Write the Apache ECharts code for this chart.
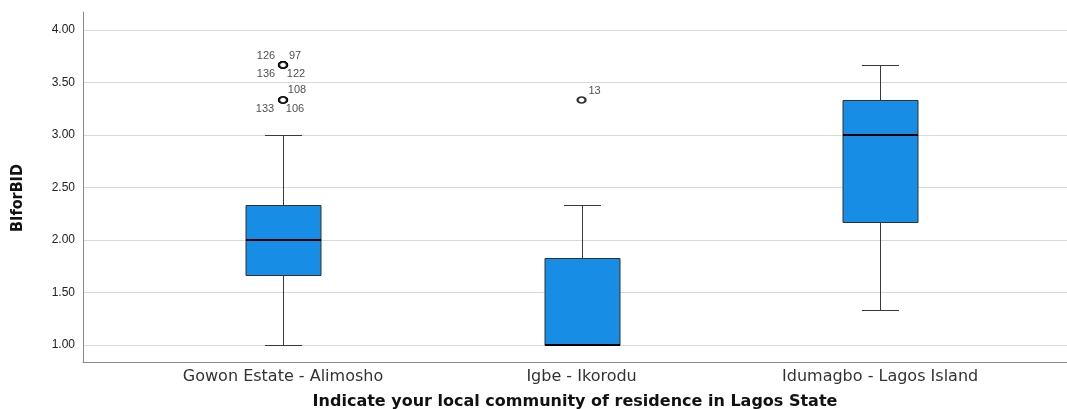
<!DOCTYPE html>
<html>
<head>
<meta charset="utf-8">
<script src="https://cdn.jsdelivr.net/npm/echarts@6/dist/echarts.min.js"></script>
<style>
html,body{margin:0;padding:0;background:#fff;}
#chart{width:1067px;height:409px;}
</style>
</head>
<body>
<div id="chart"></div>
<script>
// ---- data ----
const categories = ['Gowon Estate - Alimosho', 'Igbe - Ikorodu', 'Idumagbo - Lagos Island'];
const whiskerLow  = [1.000, 1.000, 1.333];
const quartile1   = [1.667, 1.000, 2.167];
const medians     = [2.000, 1.000, 3.000];
const quartile3   = [2.333, 1.833, 3.333];
const whiskerHigh = [3.000, 2.333, 3.667];

const outlierGroup = [0, 0, 0, 0, 0, 0, 0, 1];
const outlierValue = [3.667, 3.667, 3.667, 3.667, 3.333, 3.333, 3.333, 3.333];
const outlierCase  = ['126', '97', '136', '122', '108', '133', '106', '13'];

const yTicks = [1.0, 1.5, 2.0, 2.5, 3.0, 3.5, 4.0];
const yTitle = 'BIforBID';
const xTitle = 'Indicate your local community of residence in Lagos State';

// label placement around the outlier marker (style only)
const caseLabelOffset = [[-17, -9], [12, -9], [-17, 9], [13, 9], [14, -10], [-18, 9], [12, 9], [13, -9]];

const boxData = categories.map((c, i) => [i, whiskerLow[i], quartile1[i], medians[i], quartile3[i], whiskerHigh[i]]);
const outlierData = outlierGroup.map((g, i) => [g, outlierValue[i]]);

const chart = echarts.init(document.getElementById('chart'), null, {renderer: 'canvas'});

function renderBox(params, api) {
  const x = api.value(0);
  const pMin = api.coord([x, api.value(1)]);
  const pQ1 = api.coord([x, api.value(2)]);
  const pMed = api.coord([x, api.value(3)]);
  const pQ3 = api.coord([x, api.value(4)]);
  const pMax = api.coord([x, api.value(5)]);
  const cx = Math.round(pMed[0]) + 0.5;
  const hw = 37.5, cw = 18.5;
  const r = v => Math.round(v) + 0.5;
  const whisk = {stroke: '#3a3a3a', lineWidth: 1};
  return {
    type: 'group',
    children: [
      {type: 'line', shape: {x1: cx, y1: r(pMax[1]), x2: cx, y2: r(pQ3[1])}, style: whisk},
      {type: 'line', shape: {x1: cx, y1: r(pQ1[1]), x2: cx, y2: r(pMin[1])}, style: whisk},
      {type: 'line', shape: {x1: cx - cw, y1: r(pMax[1]), x2: cx + cw, y2: r(pMax[1])}, style: whisk},
      {type: 'line', shape: {x1: cx - cw, y1: r(pMin[1]), x2: cx + cw, y2: r(pMin[1])}, style: whisk},
      {type: 'rect', shape: {x: cx - hw, y: r(pQ3[1]), width: hw * 2, height: Math.round(pQ1[1]) - Math.round(pQ3[1])},
        style: {fill: '#178de5', stroke: '#333', lineWidth: 1}},
      {type: 'line', shape: {x1: cx - hw, y1: Math.round(pMed[1]), x2: cx + hw, y2: Math.round(pMed[1])},
        style: {stroke: '#000', lineWidth: 2}}
    ]
  };
}

const option = {
  backgroundColor: '#fff',
  animation: false,
  grid: {left: 83, right: 0, top: 12, bottom: 47, containLabel: false, outerBoundsMode: 'none'},
  xAxis: {
    type: 'value',
    min: -0.670, max: 2.626,
    name: xTitle,
    nameLocation: 'middle',
    nameGap: 32,
    nameTextStyle: {fontFamily: 'DejaVu Sans', fontWeight: 'bold', fontSize: 16, color: '#111'},
    axisLine: {show: true, onZero: false, lineStyle: {color: '#8a8a8a', width: 1}},
    axisTick: {show: false},
    splitLine: {show: false},
    axisLabel: {
      customValues: [0, 1, 2],
      formatter: v => categories[Math.round(v)],
      fontFamily: 'DejaVu Sans', fontSize: 16, color: '#333', margin: 7
    }
  },
  yAxis: {
    type: 'value',
    min: 0.838, max: 4.171,
    name: yTitle,
    nameLocation: 'middle',
    nameRotate: 90,
    nameGap: 57,
    nameTextStyle: {fontFamily: "'DejaVu Sans Condensed', sans-serif", fontWeight: 'bold', fontSize: 16, color: '#111', padding: [0, 22, 0, 0]},
    axisLine: {show: true, onZero: false, lineStyle: {color: '#8a8a8a', width: 1}},
    axisTick: {show: false, customValues: yTicks},
    splitLine: {show: true, lineStyle: {color: '#d9d9d9', width: 1}},
    axisLabel: {
      customValues: yTicks,
      formatter: v => v.toFixed(2),
      fontFamily: 'Liberation Sans', fontSize: 12, color: '#222', margin: 8
    }
  },
  series: [
    {
      type: 'custom',
      renderItem: renderBox,
      data: boxData,
      encode: {x: 0, y: [1, 2, 3, 4, 5]},
      z: 3
    },
    {
      type: 'scatter',
      data: outlierData,
      symbol: 'emptyCircle',
      symbolSize: [8, 6],
      itemStyle: {color: '#000', borderColor: '#000', borderWidth: 1.3},
      z: 4,
      label: {
        show: true,
        position: 'inside',
        formatter: p => outlierCase[p.dataIndex],
        fontFamily: 'Liberation Sans', fontSize: 11, color: '#222'
      },
      labelLayout: p => ({dx: caseLabelOffset[p.dataIndex][0], dy: caseLabelOffset[p.dataIndex][1]})
    }
  ]
};
chart.setOption(option);
</script>
</body>
</html>
